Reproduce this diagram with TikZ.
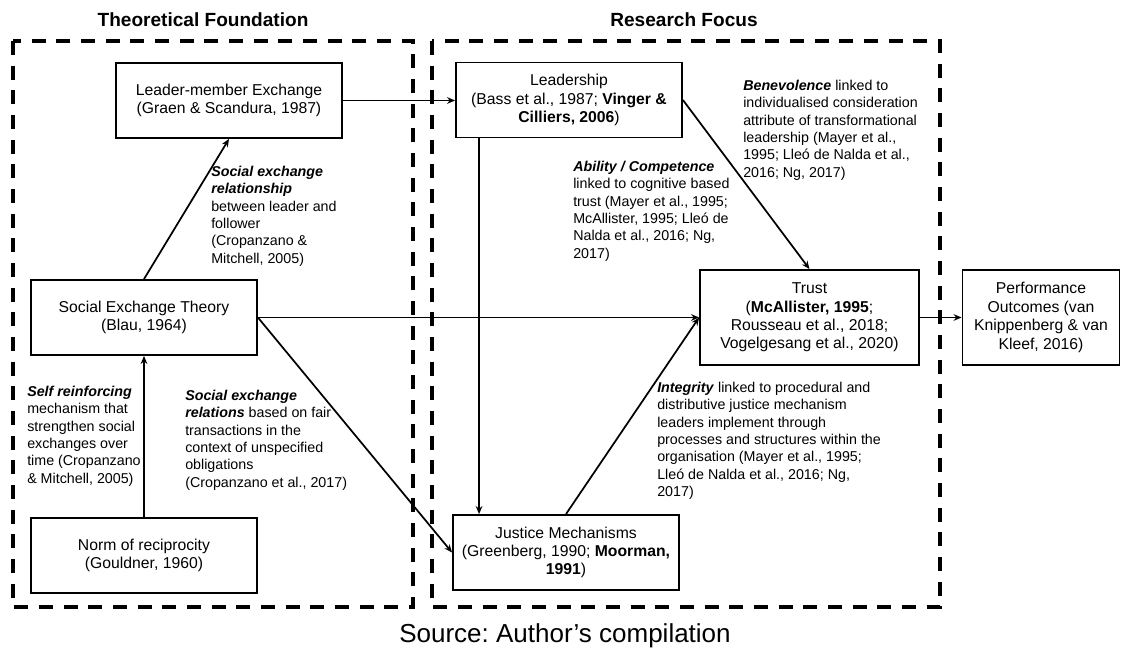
\documentclass[tikz,border=0pt]{standalone}
\usepackage{fontspec}
\setmainfont{Liberation Sans}
\usetikzlibrary{arrows.meta}
\frenchspacing

\newcommand{\bi}[1]{\textbf{\textit{#1}}}

\begin{document}
\begin{tikzpicture}[x=0.75pt, y=-0.75pt,
    box/.style     = {draw, line width=1.4pt, align=center, inner sep=2pt,
                      minimum width=169.5pt, minimum height=56.25pt,
                      font=\fontsize{11.8}{13.8}\selectfont},
    lbl/.style     = {anchor=north west, align=left, inner sep=0pt,
                      font=\fontsize{10.7}{13}\selectfont},
    link/.style    = {-{Stealth[length=6pt,width=5pt]}, line width=1.3pt},
    frame/.style   = {line width=3pt, dash pattern=on 10.5pt off 8pt},
    heading/.style = {font=\fontsize{14.3}{16}\selectfont\bfseries},
]

% Fixed canvas in pixel units of the reference
\useasboundingbox (0,0) rectangle (1121,648);

% --- the two dashed frames and their headings --------------------------
\draw[frame] (13,41) rectangle (413,607);
\draw[frame] (432,41) rectangle (940,607);
\node[heading] (headtheory) at (203,20) {Theoretical Foundation};
\node[heading] (headfocus)  at (684,20) {Research Focus};

% --- the boxes ----------------------------------------------------------
\node[box] (lmx)   at (229,100.5) {Leader-member Exchange\\(Graen \& Scandura, 1987)};
\node[box] (set)   at (144,317.5) {Social Exchange Theory\\(Blau, 1964)};
\node[box] (norm)  at (144,555.5) {Norm of reciprocity\\(Gouldner, 1960)};
\node[box] (lead)  at (569,100)   {Leadership\\(Bass et al., 1987; \textbf{Vinger \&}\\\textbf{Cilliers, 2006})};
\node[box] (just)  at (566,552.5) {Justice Mechanisms\\(Greenberg, 1990; \textbf{Moorman,}\\\textbf{1991})};
\node[box, minimum width=164.25pt, minimum height=71.25pt] (trust) at (809.5,317.5)
      {Trust\\(\textbf{McAllister, 1995};\\Rousseau et al., 2018;\\Vogelgesang et al., 2020)};
\node[box, minimum width=117.75pt, minimum height=71.25pt] (perf) at (1041,317.5)
      {Performance\\Outcomes (van\\Knippenberg \& van\\Kleef, 2016)};

% --- the links ----------------------------------------------------------
\draw[link] (lmx.east) -- (lmx.east -| lead.west);
\draw[link] (set.north) -- (lmx.south);
\draw[link] (norm) -- (set);
\draw[link] (set.east) -- (trust.west);
\draw[link] (set.east) -- (just.west);
\draw[link] ([xshift=18pt]lead.south west) -- ([xshift=18pt]lead.south west |- just.north);
\draw[link] (lead.east) -- (trust.north);
\draw[link] (just.north) -- (trust.west);
\draw[link] (trust) -- (perf);

% --- the link labels ----------------------------------------------------
\node[lbl] (lblrel) at (211,166)
      {\bi{Social exchange}\\\bi{relationship}\\between leader and\\follower\\(Cropanzano \&\\Mitchell, 2005)};
\node[lbl] (lblself) at (27,386)
      {\bi{Self reinforcing}\\mechanism that\\strengthen social\\exchanges over\\time (Cropanzano\\\& Mitchell, 2005)};
\node[lbl] (lblfair) at (185,390)
      {\bi{Social exchange}\\\bi{relations} based on fair\\transactions in the\\context of unspecified\\obligations\\(Cropanzano et al., 2017)};
\node[lbl] (lblability) at (573,161)
      {\bi{Ability / Competence}\\linked to cognitive based\\trust (Mayer et al., 1995;\\McAllister, 1995; Lleó de\\Nalda et al., 2016; Ng,\\2017)};
\node[lbl] (lblbenev) at (743,80)
      {\bi{Benevolence} linked to\\individualised consideration\\attribute of transformational\\leadership (Mayer et al.,\\1995; Lleó de Nalda et al.,\\2016; Ng, 2017)};
\node[lbl] (lblinteg) at (657,382)
      {\bi{Integrity} linked to procedural and\\distributive justice mechanism\\leaders implement through\\processes and structures within the\\organisation (Mayer et al., 1995;\\Lleó de Nalda et al., 2016; Ng,\\2017)};

% --- source line --------------------------------------------------------
\node[font=\fontsize{19.5}{22}\selectfont] (source) at (565,636) {Source: Author’s compilation};

\end{tikzpicture}
\end{document}
